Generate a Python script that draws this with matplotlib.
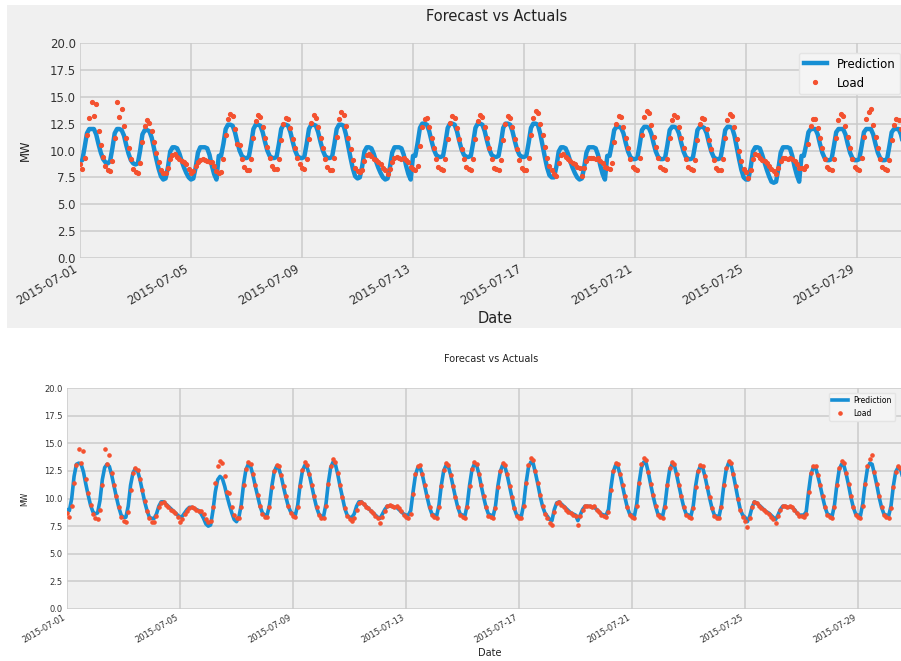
import matplotlib
matplotlib.use('Agg')
import matplotlib.pyplot as plt
import matplotlib.dates as mdates
from matplotlib.patches import Rectangle
import numpy as np
import pandas as pd

# values, one row per day (hours 0,2,...,22), July 2015
load_rows = [
    [8.7, 8.3, 9.3, 11.4, 13.0, 14.5, 13.2, 14.3, 11.8, 10.5, 9.4, 8.6],
    [8.2, 8.1, 9.0, 11.2, 14.5, 13.1, 13.9, 12.3, 11.2, 10.2, 9.2, 8.3],
    [8.0, 7.9, 8.8, 10.8, 12.3, 12.8, 12.6, 11.8, 10.8, 9.8, 8.9, 8.2],
    [7.9, 7.9, 8.4, 9.2, 9.6, 9.7, 9.4, 9.2, 9.0, 8.9, 8.7, 8.3],
    [7.9, 8.1, 8.6, 8.9, 9.1, 9.2, 9.1, 9.0, 8.9, 8.9, 8.6, 8.1],
    [7.9, 8.0, 9.2, 11.4, 12.9, 13.4, 13.2, 12.0, 10.6, 10.5, 9.2, 8.5],
    [8.2, 8.2, 9.2, 11.2, 12.7, 13.3, 13.1, 12.2, 11.2, 10.3, 9.3, 8.6],
    [8.3, 8.3, 9.2, 11.0, 12.5, 13.0, 12.9, 12.1, 11.1, 10.2, 9.3, 8.7],
    [8.4, 8.3, 9.2, 11.1, 12.6, 13.3, 13.0, 12.2, 11.2, 10.2, 9.2, 8.5],
    [8.2, 8.2, 9.3, 11.3, 12.9, 13.6, 13.3, 12.3, 11.2, 10.1, 9.1, 8.4],
    [8.1, 8.0, 8.2, 9.0, 9.6, 9.7, 9.5, 9.2, 9.1, 8.9, 8.7, 8.4],
    [8.2, 7.8, 8.3, 8.9, 9.3, 9.4, 9.3, 9.2, 9.3, 9.1, 8.9, 8.5],
    [8.3, 8.2, 8.6, 10.4, 12.2, 12.9, 13.0, 12.2, 11.2, 10.2, 9.2, 8.5],
    [8.3, 8.2, 9.2, 11.1, 12.6, 13.2, 13.0, 12.1, 11.1, 10.1, 9.2, 8.5],
    [8.3, 8.2, 9.2, 11.1, 12.7, 13.3, 13.1, 12.2, 11.2, 10.2, 9.2, 8.4],
    [8.3, 8.2, 9.1, 11.0, 12.5, 13.2, 13.0, 12.2, 11.1, 10.1, 9.1, 8.4],
    [8.2, 8.2, 9.3, 11.4, 13.0, 13.7, 13.5, 12.5, 11.4, 10.3, 9.3, 8.6],
    [8.2, 7.8, 7.6, 8.8, 9.6, 9.7, 9.4, 9.2, 9.0, 8.8, 8.7, 8.5],
    [8.4, 7.6, 8.4, 9.0, 9.3, 9.3, 9.3, 9.2, 9.3, 9.0, 8.8, 8.5],
    [8.4, 8.3, 8.8, 10.8, 12.5, 13.2, 13.1, 12.2, 11.2, 10.2, 9.2, 8.5],
    [8.3, 8.2, 9.3, 11.4, 13.1, 13.7, 13.5, 12.4, 11.3, 10.3, 9.3, 8.5],
    [8.3, 8.2, 9.2, 11.2, 12.8, 13.3, 13.1, 12.2, 11.2, 10.2, 9.2, 8.5],
    [8.3, 8.2, 9.1, 11.0, 12.5, 13.0, 12.9, 12.0, 11.0, 10.1, 9.1, 8.4],
    [8.2, 8.2, 9.2, 11.2, 12.8, 13.4, 13.2, 12.2, 11.1, 10.0, 9.0, 8.3],
    [8.0, 7.4, 8.2, 9.2, 9.7, 9.6, 9.3, 9.1, 9.0, 8.8, 8.6, 8.3],
    [8.1, 7.8, 8.4, 9.0, 9.3, 9.3, 9.2, 9.3, 9.2, 9.0, 8.7, 8.4],
    [8.4, 8.3, 8.6, 10.6, 12.3, 12.9, 12.9, 12.1, 11.2, 10.2, 9.2, 8.5],
    [8.3, 8.2, 9.2, 11.2, 12.8, 13.4, 13.2, 12.3, 11.3, 10.2, 9.2, 8.5],
    [8.3, 8.2, 9.3, 11.3, 12.9, 13.6, 13.9, 12.4, 11.3, 10.2, 9.2, 8.5],
    [8.3, 8.2, 9.1, 11.0, 12.4, 12.9, 12.8, 12.0, 11.1, 10.1, 9.1, 8.4],
    [8.3, 8.2, 9.1, 11.0, 12.4, 12.8, 12.7, 11.9, 11.0, 10.0, 9.0, 8.3],
]

# first model (top chart)
pred_top_rows = [
    [9.0, 9.1, 10.3, 11.6, 12.0, 12.0, 12.0, 11.5, 10.6, 9.8, 9.2, 8.9],
    [8.8, 9.0, 10.2, 11.6, 12.0, 12.0, 11.9, 11.4, 10.5, 9.7, 9.1, 8.8],
    [8.7, 8.8, 10.0, 11.5, 11.9, 11.9, 11.8, 11.2, 10.2, 9.2, 8.3, 7.6],
    [7.3, 7.4, 8.4, 9.9, 10.3, 10.3, 10.2, 9.7, 9.0, 8.4, 7.9, 7.5],
    [7.3, 7.4, 8.4, 9.8, 10.3, 10.3, 10.3, 10.2, 9.6, 8.6, 7.8, 7.3],
    [9.5, 9.5, 10.6, 12.0, 12.4, 12.4, 12.3, 11.7, 10.8, 10.0, 9.5, 9.3],
    [9.3, 9.4, 10.6, 12.0, 12.4, 12.4, 12.3, 11.7, 10.8, 10.0, 9.5, 9.3],
    [9.3, 9.4, 10.6, 12.0, 12.4, 12.4, 12.3, 11.7, 10.8, 10.0, 9.5, 9.3],
    [9.3, 9.4, 10.6, 12.0, 12.4, 12.4, 12.3, 11.7, 10.8, 10.0, 9.5, 9.3],
    [9.3, 9.4, 10.6, 12.0, 12.4, 12.4, 12.3, 11.5, 10.4, 9.3, 8.3, 7.6],
    [7.4, 7.5, 8.5, 9.9, 10.3, 10.3, 10.2, 9.7, 9.0, 8.4, 7.9, 7.5],
    [7.3, 7.4, 8.4, 9.8, 10.3, 10.3, 10.3, 10.2, 9.6, 8.6, 7.8, 7.3],
    [9.5, 9.5, 10.7, 12.1, 12.5, 12.5, 12.4, 11.8, 10.9, 10.1, 9.6, 9.4],
    [9.4, 9.5, 10.7, 12.1, 12.5, 12.5, 12.4, 11.8, 10.9, 10.1, 9.6, 9.4],
    [9.4, 9.5, 10.7, 12.1, 12.5, 12.5, 12.4, 11.8, 10.9, 10.1, 9.6, 9.4],
    [9.4, 9.5, 10.7, 12.1, 12.5, 12.5, 12.4, 11.8, 10.9, 10.1, 9.6, 9.4],
    [9.4, 9.5, 10.7, 12.1, 12.5, 12.5, 12.4, 11.6, 10.5, 9.4, 8.4, 7.7],
    [7.5, 7.5, 8.5, 9.9, 10.3, 10.3, 10.2, 9.7, 9.0, 8.4, 7.9, 7.5],
    [7.3, 7.4, 8.4, 9.8, 10.3, 10.3, 10.3, 10.2, 9.6, 8.6, 7.8, 7.3],
    [9.5, 9.5, 10.6, 11.9, 12.2, 12.2, 12.1, 11.6, 10.7, 9.9, 9.4, 9.2],
    [9.2, 9.3, 10.5, 11.9, 12.2, 12.2, 12.1, 11.6, 10.7, 9.9, 9.4, 9.2],
    [9.2, 9.3, 10.5, 11.9, 12.2, 12.2, 12.1, 11.6, 10.7, 9.9, 9.4, 9.2],
    [9.2, 9.3, 10.5, 11.9, 12.2, 12.2, 12.1, 11.6, 10.7, 9.9, 9.4, 9.2],
    [9.2, 9.3, 10.5, 11.9, 12.2, 12.2, 12.1, 11.4, 10.3, 9.2, 8.2, 7.5],
    [7.3, 7.3, 8.4, 9.9, 10.3, 10.3, 10.2, 9.6, 8.9, 8.2, 7.6, 7.1],
    [7.0, 7.1, 8.3, 9.8, 10.3, 10.3, 10.3, 10.2, 9.5, 8.5, 7.7, 7.1],
    [9.5, 9.5, 10.5, 11.7, 12.0, 12.0, 12.0, 11.5, 10.6, 9.8, 9.3, 9.1],
    [9.1, 9.2, 10.4, 11.7, 12.0, 12.0, 12.0, 11.5, 10.6, 9.8, 9.3, 9.1],
    [9.1, 9.2, 10.4, 11.7, 12.0, 12.0, 12.0, 11.5, 10.6, 9.8, 9.3, 9.1],
    [9.1, 9.2, 10.4, 11.7, 12.0, 12.0, 12.0, 11.5, 10.6, 9.8, 9.3, 9.1],
    [9.1, 9.2, 10.4, 11.7, 12.0, 12.0, 12.0, 11.5, 10.6, 9.8, 9.3, 9.1],
]

# second model (bottom chart)
pred_bot_rows = [
    [9.0, 8.9, 10.0, 12.0, 13.1, 13.2, 13.1, 12.4, 11.3, 10.3, 9.4, 8.8],
    [8.6, 8.7, 9.8, 11.7, 12.8, 13.1, 12.9, 12.1, 11.1, 10.1, 9.2, 8.5],
    [8.3, 8.3, 9.3, 11.2, 12.3, 12.7, 12.5, 11.7, 10.7, 9.7, 8.9, 8.3],
    [8.2, 8.2, 8.6, 9.3, 9.7, 9.7, 9.5, 9.3, 9.1, 8.9, 8.7, 8.5],
    [8.3, 8.4, 8.7, 9.0, 9.2, 9.2, 9.1, 9.0, 8.9, 8.6, 8.2, 7.7],
    [7.5, 7.6, 8.9, 10.6, 11.7, 12.0, 11.8, 11.1, 10.2, 9.4, 8.7, 8.1],
    [7.9, 8.3, 9.4, 11.3, 12.6, 13.1, 12.9, 12.1, 11.1, 10.2, 9.3, 8.7],
    [8.5, 8.5, 9.4, 11.1, 12.4, 12.9, 12.7, 12.0, 11.0, 10.1, 9.3, 8.8],
    [8.6, 8.5, 9.4, 11.2, 12.5, 13.0, 12.8, 12.1, 11.1, 10.1, 9.2, 8.6],
    [8.4, 8.4, 9.5, 11.4, 12.8, 13.3, 13.1, 12.2, 11.1, 10.1, 9.1, 8.5],
    [8.3, 8.3, 8.6, 9.3, 9.7, 9.7, 9.5, 9.3, 9.1, 8.9, 8.7, 8.5],
    [8.3, 8.2, 8.6, 9.0, 9.3, 9.3, 9.3, 9.2, 9.2, 9.0, 8.8, 8.6],
    [8.5, 8.5, 8.9, 10.6, 12.1, 12.8, 12.8, 12.1, 11.1, 10.1, 9.2, 8.6],
    [8.5, 8.4, 9.4, 11.2, 12.5, 13.0, 12.9, 12.1, 11.1, 10.1, 9.2, 8.6],
    [8.5, 8.4, 9.4, 11.2, 12.6, 13.1, 13.0, 12.2, 11.1, 10.1, 9.2, 8.6],
    [8.5, 8.4, 9.3, 11.1, 12.4, 13.0, 12.9, 12.1, 11.1, 10.1, 9.1, 8.5],
    [8.4, 8.4, 9.5, 11.4, 12.8, 13.3, 13.2, 12.3, 11.3, 10.2, 9.3, 8.7],
    [8.4, 8.1, 8.0, 9.0, 9.6, 9.7, 9.5, 9.3, 9.1, 8.9, 8.7, 8.6],
    [8.5, 8.0, 8.5, 9.0, 9.3, 9.3, 9.3, 9.2, 9.2, 9.0, 8.8, 8.6],
    [8.5, 8.5, 9.0, 10.9, 12.4, 13.0, 12.9, 12.1, 11.1, 10.1, 9.2, 8.6],
    [8.5, 8.4, 9.5, 11.4, 12.8, 13.3, 13.2, 12.3, 11.2, 10.2, 9.3, 8.6],
    [8.5, 8.4, 9.4, 11.2, 12.6, 13.1, 13.0, 12.1, 11.1, 10.1, 9.2, 8.6],
    [8.5, 8.4, 9.3, 11.1, 12.4, 12.9, 12.8, 12.0, 11.0, 10.0, 9.1, 8.5],
    [8.4, 8.4, 9.4, 11.2, 12.6, 13.2, 13.1, 12.2, 11.1, 10.0, 9.0, 8.5],
    [8.3, 7.9, 8.4, 9.2, 9.7, 9.6, 9.4, 9.2, 9.0, 8.8, 8.7, 8.5],
    [8.3, 8.1, 8.5, 9.0, 9.3, 9.3, 9.2, 9.2, 9.2, 9.0, 8.7, 8.5],
    [8.5, 8.5, 8.8, 10.6, 12.2, 12.8, 12.8, 12.0, 11.1, 10.1, 9.2, 8.6],
    [8.5, 8.4, 9.4, 11.2, 12.6, 13.1, 13.0, 12.2, 11.2, 10.1, 9.2, 8.6],
    [8.5, 8.4, 9.5, 11.3, 12.7, 13.2, 13.1, 12.2, 11.2, 10.1, 9.2, 8.6],
    [8.5, 8.4, 9.3, 11.1, 12.4, 12.8, 12.7, 11.9, 11.0, 10.0, 9.1, 8.5],
    [8.5, 8.4, 9.3, 11.0, 12.3, 12.7, 12.6, 11.8, 10.9, 9.9, 9.0, 8.5],
]

title = 'Forecast vs Actuals'
yticks = [0.0, 2.5, 5.0, 7.5, 10.0, 12.5, 15.0, 17.5, 20.0]
tick_days = [1, 5, 9, 13, 17, 21, 25, 29]

times = pd.date_range('2015-07-01', periods=len(load_rows) * 12, freq='2h')
load = np.ravel(load_rows)
pred_top = np.ravel(pred_top_rows)
pred_bot = np.ravel(pred_bot_rows)

blue = '#168fd4'
red = '#f4512f'
W, H = 901, 661

fig = plt.figure(figsize=(9.01, 6.61), dpi=100, facecolor='white')

# grey screenshot area behind the top chart
bg = Rectangle((7 / W, 1 - 328 / H), (W - 7) / W, 323 / H, transform=fig.transFigure,
               facecolor='#f0f0f0', edgecolor='none', zorder=-5)
fig.add_artist(bg)


def make_axes(px_left, px_top, px_bottom, px_per_day):
    width = 30 * px_per_day
    return fig.add_axes([px_left / W, 1 - px_bottom / H, width / W, (px_bottom - px_top) / H])


def style(ax, pred, fs_tick, fs_title, fs_label, fs_leg, lw, ms, title_pad, leg_anchor):
    ax.set_facecolor('#f0f0f0')
    for s in ax.spines.values():
        s.set_visible(False)
    ax.grid(True, color='#cbcbcb', linewidth=1.1)
    ax.set_axisbelow(True)

    ax.plot(times, pred, color=blue, lw=lw, label='Prediction')
    ax.plot(times, load, '.', color=red, ms=ms, label='Load')

    ax.set_xlim(pd.Timestamp('2015-07-01'), pd.Timestamp('2015-07-31'))
    ax.set_ylim(0, 20)
    ax.set_yticks(yticks)
    ax.set_yticklabels(['%.1f' % v for v in yticks])
    ax.xaxis.set_major_locator(mdates.DayLocator(bymonthday=tick_days))
    ax.xaxis.set_major_formatter(mdates.DateFormatter('%Y-%m-%d'))
    ax.tick_params(length=0, labelsize=fs_tick, colors='#333333', pad=3)
    for lbl in ax.get_xticklabels():
        lbl.set_rotation(30)
        lbl.set_ha('right')

    ax.set_title(title, fontsize=fs_title, color='#222222', pad=title_pad)
    ax.set_xlabel('Date', fontsize=fs_label, color='#222222')
    ax.set_ylabel('MW', fontsize=fs_label * 0.8, color='#222222')
    ax.legend(loc='upper right', bbox_to_anchor=(leg_anchor[0] / W, 1 - leg_anchor[1] / H),
              bbox_transform=fig.transFigure, fontsize=fs_leg, facecolor='#f4f4f4',
              edgecolor='#e4e4e4', framealpha=1)


ax1 = make_axes(80, 43, 258, 27.75)
style(ax1, pred_top, 8.5, 10.5, 10.5, 8.5, 3.2, 5.5, 16, (906, 47))
ax1.xaxis.set_label_coords(0.4985, -0.245)
ax1.yaxis.set_label_coords(-0.058, 0.5)

ax2 = make_axes(67, 388, 609, 28.25)
style(ax2, pred_bot, 6.0, 7.0, 7.0, 5.5, 2.6, 4.6, 19, (899, 389))
ax2.xaxis.set_label_coords(0.499, -0.178)
ax2.yaxis.set_label_coords(-0.045, 0.5)

fig.savefig('out.png', dpi=100, facecolor=fig.get_facecolor())
